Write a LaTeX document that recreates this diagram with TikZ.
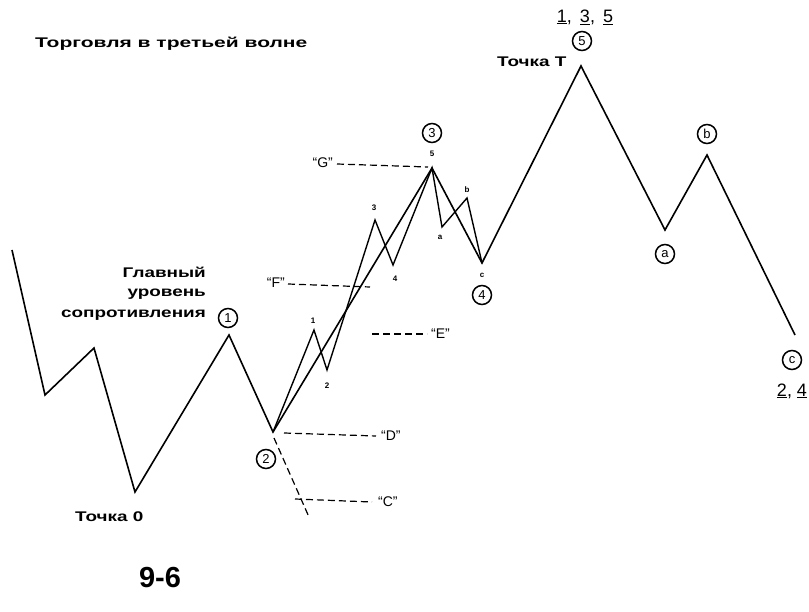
\documentclass[tikz,border=0pt]{standalone}
\usepackage{fontspec}
\setmainfont{Liberation Sans}
\newfontfamily\widefont{Liberation Sans}[FakeStretch=1.35]
\newfontfamily\widerfont{Liberation Sans}[FakeStretch=1.5]
\begin{document}
\begin{tikzpicture}[x=1pt,y=-1pt,
  wave/.style={line width=1.6pt, line join=miter},
  sub/.style={line width=1.4pt, line join=miter},
  dline/.style={line width=1.2pt, dash pattern=on 7pt off 4pt},
  circ/.style={circle, draw, line width=1.5pt, minimum size=19pt, inner sep=0pt, font=\fontsize{13}{13}\selectfont},
  lbl/.style={font=\widefont\bfseries\fontsize{14}{16}\selectfont, inner sep=0pt},
  tiny/.style={font=\bfseries\fontsize{8}{8}\selectfont, inner sep=0pt},
  quote/.style={font=\fontsize{14}{14}\selectfont, inner sep=0pt},
  digits/.style={font=\fontsize{18}{18}\selectfont, inner sep=0pt}]
\useasboundingbox (0,0) rectangle (809,612);
% main wave points
\coordinate (s0) at (12,250);
\coordinate (t1) at (45,395);
\coordinate (p1) at (94,348);
\coordinate (z0) at (135,492);
\coordinate (w1) at (229,335);
\coordinate (w2) at (273,432);
\coordinate (w3) at (432,168);
\coordinate (w4) at (482,263);
\coordinate (w5) at (581,66);
\coordinate (wa) at (665,230);
\coordinate (wb) at (707,155);
\coordinate (wc) at (795,335);
% sub-wave points
\coordinate (i1) at (314,330);
\coordinate (i2) at (327,370);
\coordinate (i3) at (375,220);
\coordinate (i4) at (393,265);
\coordinate (ia) at (442,227);
\coordinate (ib) at (467,198);
\draw[wave] (s0) -- (t1) -- (p1) -- (z0) -- (w1) -- (w2) -- (w3) -- (w4) -- (w5) -- (wa) -- (wb) -- (wc);
\draw[sub] (w2) -- (i1) -- (i2) -- (i3) -- (i4) -- (w3) -- (ia) -- (ib) -- (w4);
% dashed levels
\node[quote, anchor=east] (G) at (333,163) {``G''};
\coordinate (G2) at (428,167);
\draw[dline] (G.east) ++(4,1) coordinate (G1) (G1) -- (G2);
\node[quote, anchor=east] (F) at (285,283) {``F''};
\coordinate (F2) at (370,287);
\draw[dline] (F.east) ++(3,1) coordinate (F1) (F1) -- (F2);
\node[quote, anchor=west] (E) at (431,334) {``E''};
\coordinate (E1) at (372,334);
\draw[dline] (E1) -- ([xshift=-4pt]E.west);
\node[quote, anchor=west] (D) at (381,436) {``D''};
\coordinate (D1) at (284,433);
\draw[dline] (D1) -- ([xshift=-5pt]D.west);
\node[quote, anchor=west] (C) at (378,502) {``C''};
\coordinate (C1) at (295,499);
\draw[dline] (C1) -- ([xshift=-6pt]C.west);
\coordinate (dg1) at (274,438);
\coordinate (dg2) at (309,517);
\draw[dline] (dg1) -- (dg2);
% circled labels
\node[circ] (c1) at (228,318) {1};
\node[circ] (c2) at (266,459) {2};
\node[circ] (c3) at (432,133) {3};
\node[circ] (c4) at (482,295) {4};
\node[circ] (c5) at (582,41) {5};
\node[circ] (ca) at (665,254) {a};
\node[circ] (cb) at (707,134) {b};
\node[circ] (cc) at (792,360) {c};
% small sub-wave labels
\node[tiny] (l1) at (313,321) {1};
\node[tiny] (l2) at (327,386) {2};
\node[tiny] (l3) at (374,208) {3};
\node[tiny] (l4) at (395,279) {4};
\node[tiny] (l5) at (432,154) {5};
\node[tiny] (la) at (440,237) {a};
\node[tiny] (lb) at (467,190) {b};
\node[tiny] (lc) at (482,275) {c};
% texts
\node[lbl, font=\widerfont\bfseries\fontsize{14}{16}\selectfont, anchor=west] (title) at (35,44) {Торговля в третьей волне};
\node[lbl, anchor=east] (gl1) at (206,272) {Главный};
\node[lbl, anchor=east] (gl2) at (206,294) {уровень};
\node[lbl, anchor=east] (gl3) at (206,315) {сопротивления};
\node[lbl, anchor=west] (t0) at (75,517) {Точка 0};
\node[lbl, anchor=west] (tT) at (497,62) {Точка T};
\node[digits] (n135) at (585,17) {\underline{1},\, \underline{3},\, \underline{5}};
\node[digits] (n24) at (792,391) {\underline{2}, \underline{4}};
\node[font=\bfseries\fontsize{29}{29}\selectfont, inner sep=0pt] (fig) at (160,578) {9-6};
\end{tikzpicture}
\end{document}
